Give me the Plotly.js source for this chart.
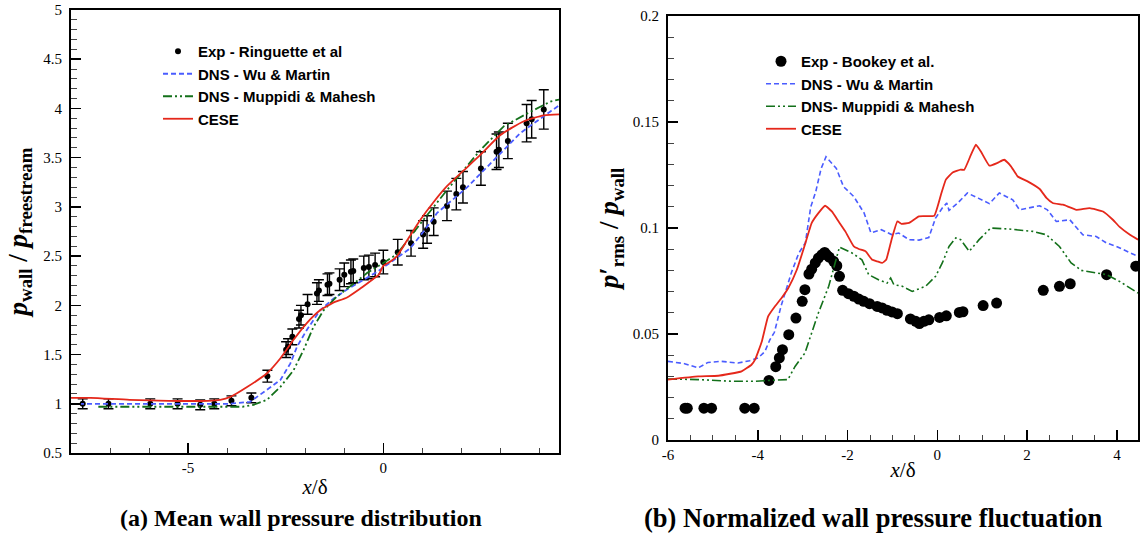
<!DOCTYPE html>
<html>
<head>
<meta charset="utf-8">
<script src="https://cdn.plot.ly/plotly-3.0.1.min.js"></script>
<style>html,body{margin:0;padding:0;background:#fff}#chart{width:1140px;height:536px}</style>
</head>
<body>
<div id="chart"></div>
<script>
// ---------- (a) Mean wall pressure ----------
const expAX = [-7.70,-7.04,-5.97,-5.27,-4.69,-4.33,-3.89,-3.38,-2.97,-2.49,-2.44,-2.33,-2.16,-2.11,-1.94,-1.70,-1.65,-1.43,-1.38,-1.12,-1.00,-0.83,-0.77,-0.50,-0.37,-0.21,0.00,0.37,0.71,1.02,1.12,1.29,1.63,1.87,2.04,2.50,2.90,2.96,3.19,3.67,3.80,4.11];
const expAY = [1.00,1.00,1.00,1.00,0.99,1.00,1.03,1.06,1.28,1.55,1.58,1.68,1.86,1.90,2.01,2.12,2.15,2.21,2.22,2.26,2.31,2.34,2.35,2.38,2.39,2.41,2.44,2.54,2.63,2.72,2.77,2.85,3.01,3.13,3.20,3.39,3.56,3.58,3.67,3.85,3.89,3.99];
const expAErr = [0.05,0.05,0.05,0.05,0.05,0.05,0.05,0.05,0.06,0.08,0.08,0.08,0.09,0.10,0.10,0.11,0.11,0.11,0.11,0.11,0.12,0.12,0.12,0.12,0.12,0.12,0.12,0.13,0.13,0.14,0.14,0.14,0.15,0.16,0.16,0.17,0.18,0.18,0.18,0.19,0.19,0.20];

const wuAX = [-8.0,-6.0,-4.5,-3.92,-3.41,-2.98,-2.64,-2.38,-2.21,-1.96,-1.62,-1.27,-0.93,-0.59,-0.16,0.27,0.69,1.03,1.38,2.15,2.92,3.51,4.28,4.5];
const wuAY = [1.00,1.00,1.00,1.00,1.02,1.14,1.24,1.41,1.58,1.75,1.95,2.07,2.16,2.24,2.34,2.46,2.58,2.75,2.94,3.20,3.51,3.75,3.97,4.03];

const mupAX = [-7.3,-6.0,-4.5,-3.6,-3.32,-2.98,-2.64,-2.30,-2.04,-1.79,-1.53,-1.19,-0.76,-0.41,-0.08,0.35,0.95,1.63,2.49,3.09,3.69,4.28,4.5];
const mupAY = [0.97,0.97,0.97,0.97,0.99,1.04,1.17,1.34,1.55,1.78,1.95,2.09,2.22,2.33,2.41,2.52,2.83,3.17,3.58,3.82,3.95,4.07,4.09];

const ceseAX = [-8.0,-7.5,-6.5,-5.5,-4.5,-4.18,-3.92,-3.49,-2.98,-2.64,-2.30,-1.96,-1.62,-1.45,-1.27,-0.93,-0.59,-0.25,-0.12,0.0,0.2,0.35,0.61,0.95,1.29,1.63,2.06,2.49,3.0,3.6,4.11,4.5];
const ceseAY = [1.06,1.06,1.04,1.03,1.03,1.04,1.07,1.17,1.31,1.46,1.65,1.82,1.95,1.99,2.03,2.08,2.17,2.27,2.31,2.40,2.45,2.50,2.66,2.87,3.05,3.21,3.37,3.53,3.73,3.87,3.93,3.94];

// ---------- (b) Normalized wall pressure fluctuation ----------
const expBX = [-5.62,-5.57,-5.20,-5.03,-4.29,-4.08,-3.75,-3.60,-3.52,-3.45,-3.31,-3.15,-3.01,-2.95,-2.86,-2.80,-2.72,-2.65,-2.57,-2.51,-2.47,-2.41,-2.31,-2.24,-2.18,-2.11,-1.98,-1.86,-1.75,-1.64,-1.51,-1.34,-1.23,-1.12,-1.01,-0.89,-0.60,-0.48,-0.40,-0.30,-0.19,0.05,0.20,0.49,0.57,1.02,1.32,2.36,2.72,2.96,3.77,4.42];
const expBY = [0.015,0.015,0.015,0.015,0.015,0.015,0.0281,0.0346,0.0387,0.0426,0.0497,0.0575,0.0654,0.0709,0.0783,0.0806,0.0835,0.0858,0.0874,0.0885,0.0874,0.0863,0.0843,0.0822,0.0772,0.0706,0.069,0.0678,0.0665,0.0654,0.0643,0.063,0.0623,0.0612,0.0604,0.0596,0.0571,0.056,0.0549,0.056,0.0567,0.0578,0.0586,0.0602,0.0605,0.0634,0.0646,0.0706,0.0725,0.0737,0.078,0.082];

const wuBX = [-6.0,-5.63,-5.33,-5.11,-4.81,-4.44,-4.18,-3.99,-3.84,-3.73,-3.63,-3.48,-3.25,-3.09,-2.94,-2.82,-2.71,-2.59,-2.48,-2.25,-2.09,-1.86,-1.63,-1.48,-1.25,-1.02,-0.86,-0.63,-0.41,-0.19,-0.04,0.11,0.21,0.26,0.45,0.67,0.91,1.16,1.38,1.68,1.83,2.28,2.45,2.65,2.95,3.24,3.54,3.77,3.98,4.29,4.47];
const wuBY = [0.0371,0.036,0.034,0.0366,0.0371,0.0363,0.0374,0.0387,0.0418,0.0473,0.0508,0.0633,0.079,0.088,0.093,0.110,0.117,0.128,0.1336,0.1281,0.1195,0.1148,0.107,0.0977,0.0992,0.0969,0.0976,0.0945,0.0943,0.0955,0.1047,0.1094,0.1118,0.1083,0.1117,0.1165,0.1141,0.1115,0.1165,0.1133,0.1086,0.1105,0.1086,0.1031,0.1039,0.0968,0.096,0.0929,0.0914,0.0882,0.0866];

const mupBX = [-6.0,-5.33,-4.59,-4.06,-3.77,-3.33,-3.17,-2.95,-2.80,-2.65,-2.42,-2.26,-2.18,-1.90,-1.68,-1.53,-1.31,-1.12,-1.04,-0.97,-0.78,-0.56,-0.26,-0.04,0.11,0.26,0.41,0.52,0.71,0.93,1.19,1.60,2.13,2.43,2.72,2.98,3.21,3.54,3.77,4.06,4.47];
const mupBY = [0.0288,0.0285,0.0277,0.0277,0.0281,0.0285,0.0347,0.041,0.0505,0.0599,0.0725,0.085,0.091,0.0882,0.085,0.078,0.0756,0.074,0.0764,0.0733,0.0725,0.0701,0.0725,0.0772,0.0835,0.0913,0.0953,0.0945,0.089,0.0945,0.1,0.0995,0.0984,0.0968,0.0913,0.0835,0.08,0.0788,0.078,0.0748,0.0693];

const ceseBX = [-6.0,-5.33,-4.88,-4.36,-4.14,-4.06,-3.91,-3.77,-3.62,-3.47,-3.32,-3.13,-2.95,-2.80,-2.65,-2.50,-2.35,-2.20,-2.05,-1.86,-1.75,-1.60,-1.45,-1.34,-1.23,-1.14,-1.02,-0.89,-0.80,-0.63,-0.41,-0.07,0.08,0.19,0.34,0.52,0.60,0.75,0.86,0.97,1.16,1.34,1.49,1.64,1.79,2.01,2.28,2.43,2.57,2.80,3.10,3.39,3.69,3.91,4.06,4.29,4.47];
const ceseBY = [0.0285,0.030,0.0303,0.0324,0.0355,0.0379,0.0465,0.0583,0.063,0.067,0.0717,0.0803,0.0921,0.1023,0.107,0.1105,0.1078,0.1031,0.0984,0.0913,0.0901,0.089,0.085,0.0843,0.0835,0.085,0.0945,0.1031,0.1020,0.1024,0.1055,0.1058,0.1157,0.1228,0.1262,0.1275,0.1275,0.1346,0.1393,0.1361,0.1294,0.1307,0.1322,0.1291,0.1243,0.122,0.1184,0.1142,0.1118,0.111,0.1086,0.1094,0.1078,0.1039,0.1005,0.0968,0.0945];

const namesA = ['Exp - Ringuette et al', 'DNS - Wu & Martin', 'DNS - Muppidi & Mahesh', 'CESE'];
const namesB = ['Exp - Bookey et al.', 'DNS - Wu & Martin', 'DNS- Muppidi & Mahesh', 'CESE'];
const tickXA = [-5, 0], tickXAText = ['-5', '0'];
const tickXB = [-6, -4, -2, 0, 2, 4], tickXBText = ['-6', '-4', '-2', '0', '2', '4'];

const BLUE = '#4a5cff', GREEN = '#13701a', RED = '#e5281b';
const BLUE_DASH = '5px,3px';
const GREEN_DASH = '9px,3px,2px,3px,2px,3px';

const traces = [
  {x: expAX, y: expAY, type: 'scatter', mode: 'markers', name: namesA[0], xaxis: 'x', yaxis: 'y', legend: 'legend',
   marker: {color: 'black', size: 6},
   error_y: {type: 'data', array: expAErr, visible: true, color: 'black', thickness: 1.4, width: 5}},
  {x: wuAX, y: wuAY, type: 'scatter', mode: 'lines', name: namesA[1], xaxis: 'x', yaxis: 'y', legend: 'legend',
   line: {color: BLUE, width: 1.8, dash: BLUE_DASH}},
  {x: mupAX, y: mupAY, type: 'scatter', mode: 'lines', name: namesA[2], xaxis: 'x', yaxis: 'y', legend: 'legend',
   line: {color: GREEN, width: 1.8, dash: GREEN_DASH}},
  {x: ceseAX, y: ceseAY, type: 'scatter', mode: 'lines', name: namesA[3], xaxis: 'x', yaxis: 'y', legend: 'legend',
   line: {color: RED, width: 1.8, shape: 'spline', smoothing: 0.6}},

  {x: expBX, y: expBY, type: 'scatter', mode: 'markers', name: namesB[0], xaxis: 'x2', yaxis: 'y2', legend: 'legend2',
   marker: {color: 'black', size: 11}},
  {x: wuBX, y: wuBY, type: 'scatter', mode: 'lines', name: namesB[1], xaxis: 'x2', yaxis: 'y2', legend: 'legend2',
   line: {color: BLUE, width: 1.6, dash: BLUE_DASH}},
  {x: mupBX, y: mupBY, type: 'scatter', mode: 'lines', name: namesB[2], xaxis: 'x2', yaxis: 'y2', legend: 'legend2',
   line: {color: GREEN, width: 1.6, dash: GREEN_DASH}},
  {x: ceseBX, y: ceseBY, type: 'scatter', mode: 'lines', name: namesB[3], xaxis: 'x2', yaxis: 'y2', legend: 'legend2',
   line: {color: RED, width: 1.8, shape: 'spline', smoothing: 0.35}}
];

const serif = 'Liberation Serif, Times New Roman, serif';
const tickFont = {family: serif, size: 15, color: 'black'};
const axisCommon = {
  showline: true, mirror: true, linecolor: 'black', linewidth: 2,
  ticks: 'inside', ticklen: 10, tickwidth: 1.5, tickcolor: 'black',
  showgrid: false, zeroline: false, tickfont: tickFont, ticklabelstandoff: 4
};
const legendFont = {family: 'Liberation Sans, Arial, sans-serif', size: 15, color: 'black', weight: 'bold'};

const layout = {
  width: 1140, height: 536,
  margin: {l: 0, r: 0, t: 0, b: 0},
  paper_bgcolor: 'white', plot_bgcolor: 'white',
  showlegend: true,
  xaxis: Object.assign({}, axisCommon, {
    domain: [71/1140, 559/1140], range: [-8, 4.5], anchor: 'y', ticklabelstandoff: 0,
    tickmode: 'array', tickvals: tickXA, ticktext: tickXAText,
    minor: {tickmode: 'linear', tick0: 0, dtick: 1, ticks: 'inside', ticklen: 5, tickwidth: 1, tickcolor: '#444'},
    title: {text: '<i>x</i>/δ', font: {family: serif, size: 21, color: 'black'}, standoff: 4}
  }),
  yaxis: Object.assign({}, axisCommon, {
    domain: [83/536, 526/536], range: [0.5, 5], anchor: 'x',
    dtick: 0.5, tick0: 0,
    minor: {dtick: 0.1, ticks: 'inside', ticklen: 6, tickwidth: 1, tickcolor: '#444'},
    title: {text: '<b><i>p</i><sub>wall</sub> / <i>p</i><sub>freestream</sub></b>', font: {family: serif, size: 27, color: 'black'}, standoff: 8}
  }),
  xaxis2: Object.assign({}, axisCommon, {
    domain: [668/1140, 1138/1140], range: [-6, 4.47], anchor: 'y2', ticklabelstandoff: 0,
    tickmode: 'array', tickvals: tickXB, ticktext: tickXBText,
    minor: {tickmode: 'linear', tick0: 0, dtick: 0.5, ticks: 'inside', ticklen: 5, tickwidth: 1, tickcolor: '#444'},
    title: {text: '<i>x</i>/δ', font: {family: serif, size: 21, color: 'black'}, standoff: 0}
  }),
  yaxis2: Object.assign({}, axisCommon, {
    domain: [96/536, 520/536], range: [0, 0.2], anchor: 'x2',
    dtick: 0.05, tick0: 0,
    minor: {dtick: 0.01, ticks: 'inside', ticklen: 6, tickwidth: 1, tickcolor: '#444'},
    title: {text: '<b><i>p</i>′<sub>rms</sub> / <i>p</i><sub>wall</sub></b>', font: {family: serif, size: 27, color: 'black'}, standoff: 6}
  }),
  legend: {x: 158/1140, y: 1 - 35/536, xanchor: 'left', yanchor: 'top', bgcolor: 'rgba(0,0,0,0)',
           borderwidth: 0, font: legendFont, traceorder: 'normal', tracegroupgap: 0},
  legend2: {x: 761/1140, y: 1 - 45/536, xanchor: 'left', yanchor: 'top', bgcolor: 'rgba(0,0,0,0)',
            borderwidth: 0, font: legendFont, traceorder: 'normal', tracegroupgap: 0},
  annotations: [
    {text: '<b>(a) Mean wall pressure distribution</b>', xref: 'paper', yref: 'paper', x: 301/1140, y: 1 - 518/536,
     xanchor: 'center', yanchor: 'middle', showarrow: false, font: {family: serif, size: 24, color: 'black'}},
    {text: '<b>(b) Normalized wall pressure fluctuation</b>', xref: 'paper', yref: 'paper', x: 873/1140, y: 1 - 518/536,
     xanchor: 'center', yanchor: 'middle', showarrow: false, font: {family: serif, size: 26.5, color: 'black'}}
  ]
};

Plotly.newPlot('chart', traces, layout, {displayModeBar: false, staticPlot: true});
</script>
</body>
</html>
